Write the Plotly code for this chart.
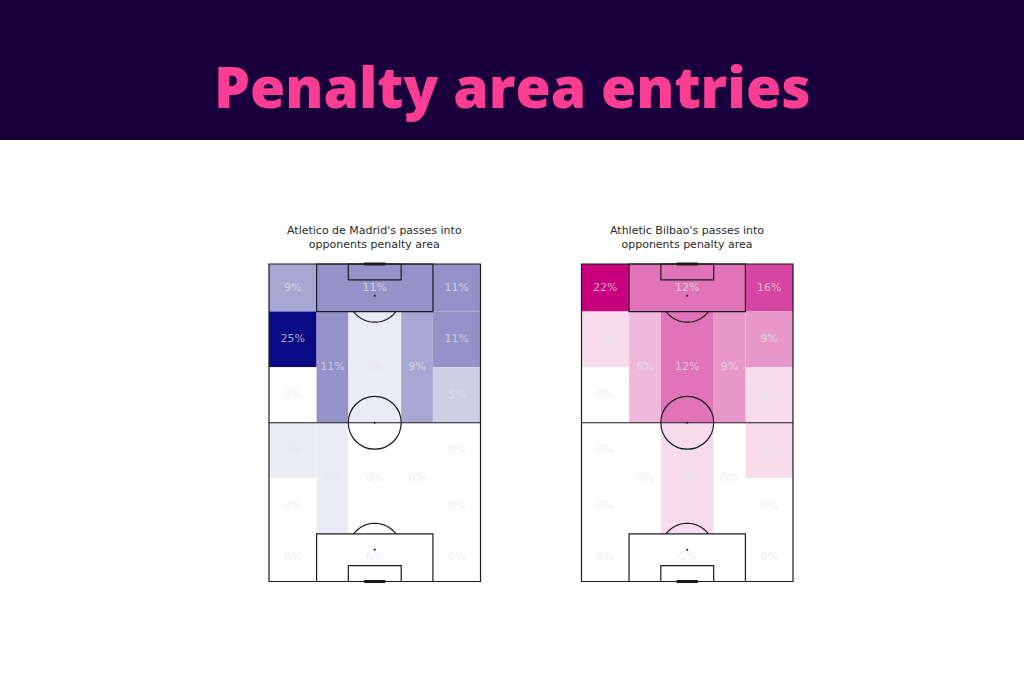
import plotly.graph_objects as go
from plotly.colors import sample_colorscale
import math

# ---------------- data ----------------
title = "Penalty area entries"
teams = ["Atletico de Madrid", "Athletic Bilbao"]
subtitles = ["Atletico de Madrid's passes into<br>opponents penalty area",
             "Athletic Bilbao's passes into<br>opponents penalty area"]

# zone names (positional bins, attacking upwards)
zones = ["box_top", "box_bottom",
         "wideL_1", "wideL_2", "wideL_3", "wideL_4", "wideL_5", "wideL_6",
         "wideR_1", "wideR_2", "wideR_3", "wideR_4", "wideR_5", "wideR_6",
         "halfL_1", "halfL_2", "centre_1", "centre_2", "halfR_1", "halfR_2"]

atletico_pct = [11, 0,
                9, 25, 0, 2, 0, 0,
                11, 11, 5, 0, 0, 0,
                11, 2, 2, 0, 9, 0]
bilbao_pct = [12, 0,
              22, 3, 0, 0, 0, 0,
              16, 9, 3, 3, 0, 0,
              6, 0, 12, 3, 9, 0]

team_values = [atletico_pct, bilbao_pct]
team_colors = ["#0a0a84", "#c8007f"]

# ---------------- pitch geometry (StatsBomb 120 x 80, vertical) ----------------
L, W = 120, 80
row_edges = [120, 102, 81, 60, 39, 18, 0]


def zone_rect(name):
    if name == "box_top":
        return (18, 62, 102, 120)
    if name == "box_bottom":
        return (18, 62, 0, 18)
    kind, idx = name.split("_")
    i = int(idx) - 1
    if kind == "wideL":
        return (0, 18, row_edges[i + 1], row_edges[i])
    if kind == "wideR":
        return (62, 80, row_edges[i + 1], row_edges[i])
    ys = [(60, 102), (18, 60)][i]
    xs = {"halfL": (18, 30), "centre": (30, 50), "halfR": (50, 62)}[kind]
    return (xs[0], xs[1], ys[0], ys[1])


fig = go.Figure()

FIG_W, FIG_H = 1024, 683
pitch_px = [(269.0, 480.5), (581.5, 793.0)]
pitch_top, pitch_bot = 264.0, 581.5
pad = 1.0
ppu_x = (pitch_px[0][1] - pitch_px[0][0]) / W
ppu_y = (pitch_bot - pitch_top) / L

line_col = "#1a1a1a"
lw = 1.2

for k in range(2):
    xa = "x" if k == 0 else "x2"
    ya = "y" if k == 0 else "y2"
    x0p, x1p = pitch_px[k]
    fig.update_layout(**{
        ("xaxis" if k == 0 else "xaxis2"): dict(
            domain=[(x0p - pad * ppu_x) / FIG_W, (x1p + pad * ppu_x) / FIG_W],
            range=[-pad, W + pad], visible=False, fixedrange=True,
            anchor=ya),
        ("yaxis" if k == 0 else "yaxis2"): dict(
            domain=[1 - (pitch_bot + pad * ppu_y) / FIG_H, 1 - (pitch_top - pad * ppu_y) / FIG_H],
            range=[-pad, L + pad], visible=False, fixedrange=True,
            anchor=xa),
    })

    vals = team_values[k]
    vmax = max(vals)
    cscale = [[0, "#ffffff"], [1, team_colors[k]]]
    cx, cy, txt = [], [], []
    for name, v in zip(zones, vals):
        rx0, rx1, ry0, ry1 = zone_rect(name)
        col = sample_colorscale(cscale, [v / vmax])[0]
        fig.add_shape(type="rect", xref=xa, yref=ya, x0=rx0, x1=rx1, y0=ry0, y1=ry1,
                      fillcolor=col, line=dict(width=0), layer="below")
        cx.append((rx0 + rx1) / 2)
        cy.append((ry0 + ry1) / 2)
        txt.append(f"{v}%")

    fig.add_trace(go.Scatter(x=cx, y=cy, text=txt, mode="text", xaxis=xa, yaxis=ya,
                             textfont=dict(family="DejaVu Sans", size=11,
                                           color="rgba(228,228,232,0.72)"),
                             hoverinfo="skip", showlegend=False))

    # pitch markings
    ln = dict(color=line_col, width=lw)
    fig.add_shape(type="rect", xref=xa, yref=ya, x0=0, x1=W, y0=0, y1=L, line=ln)
    fig.add_shape(type="line", xref=xa, yref=ya, x0=0, x1=W, y0=60, y1=60, line=ln)
    fig.add_shape(type="circle", xref=xa, yref=ya, x0=30, x1=50, y0=50, y1=70, line=ln)
    th0 = math.acos(6 / 10)
    for top in (True, False):
        if top:
            fig.add_shape(type="rect", xref=xa, yref=ya, x0=18, x1=62, y0=102, y1=120, line=ln)
            fig.add_shape(type="rect", xref=xa, yref=ya, x0=30, x1=50, y0=114, y1=120, line=ln)
            spot_y, goal_y, sgn = 108, 120, -1
        else:
            fig.add_shape(type="rect", xref=xa, yref=ya, x0=18, x1=62, y0=0, y1=18, line=ln)
            fig.add_shape(type="rect", xref=xa, yref=ya, x0=30, x1=50, y0=0, y1=6, line=ln)
            spot_y, goal_y, sgn = 12, 0, 1
        # penalty arc outside the box
        n = 30
        pts = []
        for i in range(n + 1):
            th = -th0 + i * 2 * th0 / n
            pts.append((40 + 10 * math.sin(th), spot_y + sgn * 10 * math.cos(th)))
        path = "M " + " L ".join(f"{p[0]:.3f},{p[1]:.3f}" for p in pts)
        fig.add_shape(type="path", xref=xa, yref=ya, path=path, line=ln)
        # goal
        fig.add_shape(type="line", xref=xa, yref=ya, x0=36, x1=44, y0=goal_y, y1=goal_y,
                      line=dict(color=line_col, width=3.2))
        # penalty spot
        fig.add_shape(type="circle", xref=xa, yref=ya, x0=39.6, x1=40.4,
                      y0=spot_y - 0.4, y1=spot_y + 0.4, fillcolor=line_col, line=dict(width=0))
    fig.add_shape(type="circle", xref=xa, yref=ya, x0=39.6, x1=40.4, y0=59.6, y1=60.4,
                  fillcolor=line_col, line=dict(width=0))

    # subtitle
    fig.add_annotation(text=subtitles[k], xref="paper", yref="paper",
                       x=(x0p + x1p) / 2 / FIG_W, y=1 - 237 / FIG_H,
                       xanchor="center", yanchor="middle", showarrow=False,
                       font=dict(family="DejaVu Sans", size=11, color="#2b2b2b"))

# header band
fig.add_shape(type="rect", xref="paper", yref="paper", x0=0, x1=1,
              y0=1 - 140 / FIG_H, y1=1, fillcolor="#19003c", line=dict(width=0), layer="below")
fig.add_annotation(text=title, xref="paper", yref="paper", x=0.5, y=1 - 86 / FIG_H,
                   xanchor="center", yanchor="middle", showarrow=False,
                   font=dict(family="Open Sans", size=57, color="#fb3d94", weight=800))

fig.update_layout(width=FIG_W, height=FIG_H, margin=dict(l=0, r=0, t=0, b=0),
                  paper_bgcolor="white", plot_bgcolor="rgba(0,0,0,0)", showlegend=False)

fig.write_html("out.html", config={"displayModeBar": False},
               post_script="document.body.style.margin='0px';document.body.style.overflow='hidden';")
